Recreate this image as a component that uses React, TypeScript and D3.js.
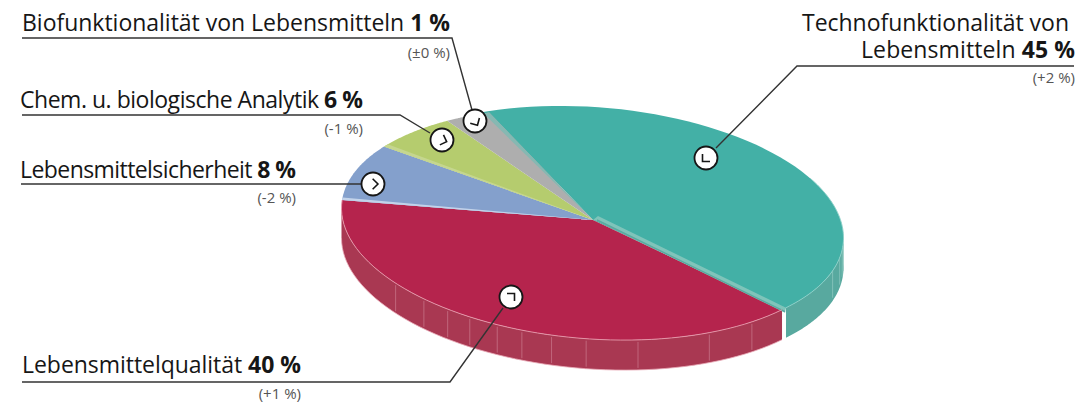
import React from "react";
import * as d3 from "d3";

// Labelled shares and changes, as printed
const labelNames = ["Technofunktionalität von|Lebensmitteln", "Lebensmittelqualität", "Lebensmittelsicherheit", "Chem. u. biologische Analytik", "Biofunktionalität von Lebensmitteln"];
const labelShares = ["45 %", "40 %", "8 %", "6 %", "1 %"];
const labelChanges = ["(+2 %)", "(+1 %)", "(-2 %)", "(-1 %)", "(±0 %)"];
// Wedge sizes as drawn in the picture (the grey wedge is drawn wider than its printed 1 %)
const drawnShares = [42.7, 40.1, 8.3, 5.8, 3.1];
const sliceColors = ["#43b0a6", "#b5244d", "#84a0cc", "#b5cc6e", "#aeaeae"];
const wallColors = ["#58a99f", "#a93852"];
const stripColors = ["#7fc4ba", "#c3d3ea", "#c5d68f"];
// Angles (degrees clockwise from the top of the disc) of the faint seams on the side wall
const tealSeams = [107, 100, 96, 93];
const redSeams = [139.6, 151.5, 169, 181, 189, 196, 202, 209, 215, 222, 231.5];

const W = 1081, H = 405;
const cx = 590.5, cy = 224, rx = 249, ry = 115, shear = 0.0637, wallH = 30;
const apex: [number, number] = [593, 220];
const startDeg = -24;
const tealShift: [number, number] = [4, -2];
const rad = (d: number) => (d * Math.PI) / 180;

const project = (a: number): [number, number] => [
  cx + rx * Math.sin(a),
  cy - ry * Math.cos(a) + shear * rx * Math.sin(a),
];

const pie = d3.pie<number>().sort(null).startAngle(rad(startDeg)).endAngle(rad(startDeg + 360));
const arcs = pie(drawnShares);
const curve = d3.line<[number, number]>().curve(d3.curveLinear);
const sweep = (a0: number, a1: number) => d3.range(0, 61).map((i) => project(a0 + ((a1 - a0) * i) / 60));
const wedge = (a0: number, a1: number) => (curve([apex, ...sweep(a0, a1)]) as string) + "Z";
const wallPath = (a0: number, a1: number) =>
  d3
    .area<[number, number]>()
    .x((d) => d[0])
    .y0((d) => d[1])
    .y1((d) => d[1] + wallH)(sweep(a0, a1));

const leaders: [number, number][][] = [
  [[1074, 66], [797, 66], [716, 148]],
  [[22, 382], [450, 382], [503, 308]],
  [[21, 184], [361, 184]],
  [[22, 115], [400, 115], [430, 133]],
  [[22, 38], [452, 38], [472, 110]],
];
const markers = [
  { x: 706, y: 158, rot: 0 },
  { x: 511, y: 297, rot: 180 },
  { x: 373, y: 184, rot: -135 },
  { x: 442, y: 140, rot: -115 },
  { x: 475, y: 121, rot: -75 },
];

const FONT = "'Open Sans', 'Noto Sans', sans-serif";

function Label({ x, y, len, name, share }: { x: number; y: number; len: number; name: string; share?: string }) {
  return (
    <text x={x} y={y} textLength={len} lengthAdjust="spacing" fontFamily={FONT} fontSize={23} fill="#161616">
      {name}
      {share ? " " : ""}
      {share ? <tspan fontWeight={700}>{share}</tspan> : null}
    </text>
  );
}

function Sub({ x, y, t }: { x: number; y: number; t: string }) {
  return (
    <text x={x} y={y} textAnchor="end" fontFamily={FONT} fontSize={15} fill="#555">
      {t}
    </text>
  );
}

export default function App() {
  const teal = arcs[0], red = arcs[1], blue = arcs[2], green = arcs[3], grey = arcs[4];
  const tealEndOuter = project(teal.endAngle);
  const tealApex: [number, number] = [apex[0] + 1, apex[1] - 2];
  const tealFace: [number, number][] = [
    tealApex,
    tealEndOuter,
    [tealEndOuter[0] - 1, tealEndOuter[1] + 5],
    [tealApex[0] - 1, tealApex[1] + 5],
    [apex[0] - tealShift[0], apex[1] - tealShift[1]],
  ];
  return (
    <svg width={W} height={H} viewBox={`0 0 ${W} ${H}`} style={{ position: "absolute", left: 0, top: 0, background: "#fff" }}>
      {/* side walls */}
      <g transform={`translate(${tealShift})`}>
        <path d={wallPath(rad(88), teal.endAngle) as string} fill={wallColors[0]} />
        {tealSeams.map((s, i) => {
          const p = project(rad(s));
          return <line key={i} x1={p[0]} y1={p[1]} x2={p[0]} y2={p[1] + wallH - 3} stroke="#8cc6be" strokeWidth={0.8} />;
        })}
      </g>
      <path d={wallPath(red.startAngle, rad(270)) as string} fill={wallColors[1]} />
      <path d={curve(sweep(red.startAngle, rad(270)).map(([x, y]) => [x, y + wallH] as [number, number])) as string} fill="none" stroke="#e8a9b6" strokeWidth={0.8} />
      {redSeams.map((s, i) => {
        const p = project(rad(s));
        return <line key={i} x1={p[0]} y1={p[1] + 2} x2={p[0]} y2={p[1] + wallH - 2} stroke="#c67287" strokeWidth={0.8} />;
      })}

      {/* top surface: teal first so the grey wedge overlaps it; an unshifted copy closes the gap at the apex */}
      <path d={wedge(teal.startAngle, teal.endAngle)} fill={sliceColors[0]} />
      <g transform={`translate(${tealShift})`}>
        <path d={wedge(teal.startAngle - rad(4), teal.endAngle)} fill={sliceColors[0]} />
      </g>
      {arcs.slice(1).map((a, i) => (
        <path key={i} d={wedge(a.startAngle, a.endAngle)} fill={sliceColors[i + 1]} />
      ))}

      {/* teal cut face */}
      <g transform={`translate(${tealShift})`}>
        <path d={(curve(tealFace) as string) + "Z"} fill={stripColors[0]} />
        <path d={curve([[tealFace[2][0], tealFace[2][1] - 1], [tealFace[3][0], tealFace[3][1] - 1]]) as string} stroke="#5aa9a0" strokeWidth={1.4} fill="none" />
      </g>

      {/* lighter cut strips along the wedge edges */}
      <path d={wedge(blue.startAngle, blue.startAngle + rad(1.3))} fill={stripColors[1]} />
      <path d={wedge(green.startAngle, green.startAngle + rad(1.5))} fill={stripColors[2]} />
      <path d={wedge(grey.endAngle - rad(1.5), grey.endAngle)} fill="#86b8b2" />

      {/* rim highlight */}
      <path d={curve(sweep(red.startAngle, red.endAngle)) as string} fill="none" stroke="#e79aab" strokeWidth={0.9} />
      <g transform={`translate(${tealShift})`}>
        <path d={curve(sweep(rad(60), teal.endAngle)) as string} fill="none" stroke="#8fd0c8" strokeWidth={0.9} />
      </g>

      {/* leaders */}
      {leaders.map((pts, i) => (
        <path key={i} d={curve(pts) as string} fill="none" stroke="#333" strokeWidth={1.4} />
      ))}

      {/* markers */}
      {markers.map((m, i) => (
        <g key={i} transform={`translate(${m.x},${m.y})`}>
          <circle r={11.5} fill="#fff" stroke="#161616" strokeWidth={1.8} />
          <g transform={`rotate(${m.rot})`}>
            <path d="M-3.5,-4 L-3.5,3.5 L4,3.5" fill="none" stroke="#161616" strokeWidth={1.6} />
          </g>
        </g>
      ))}

      {/* labels */}
      <Label x={802} y={31} len={267} name={labelNames[0].split("|")[0]} />
      <Label x={861} y={58} len={214} name={labelNames[0].split("|")[1]} share={labelShares[0]} />
      <Sub x={1075} y={83} t={labelChanges[0]} />
      <Label x={22} y={373} len={279} name={labelNames[1]} share={labelShares[1]} />
      <Sub x={301} y={399} t={labelChanges[1]} />
      <Label x={20} y={178} len={276} name={labelNames[2]} share={labelShares[2]} />
      <Sub x={296} y={203} t={labelChanges[2]} />
      <Label x={20} y={108} len={343} name={labelNames[3]} share={labelShares[3]} />
      <Sub x={363} y={134} t={labelChanges[3]} />
      <Label x={22} y={31} len={428} name={labelNames[4]} share={labelShares[4]} />
      <Sub x={450} y={58} t={labelChanges[4]} />
    </svg>
  );
}
